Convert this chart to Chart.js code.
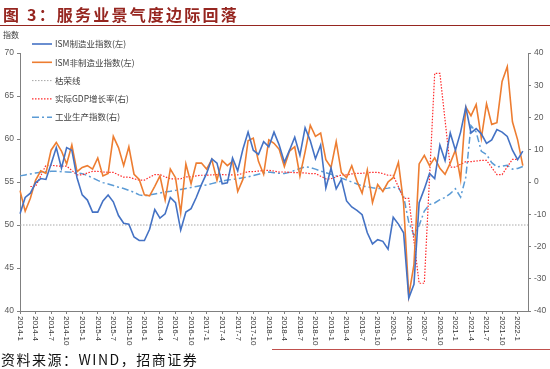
<!DOCTYPE html>
<html>
<head>
<meta charset="utf-8">
<script src="https://cdn.jsdelivr.net/npm/chart.js@4/dist/chart.umd.min.js"></script>
<style>
body { margin: 0; background: #fff; }
#wrap { position: relative; width: 550px; height: 369px; overflow: hidden; font-family: "Noto Sans CJK SC", sans-serif; }
#title { position: absolute; left: 3px; top: 4px; font-size: 16px; line-height: 20px; font-weight: bold; color: #962620; letter-spacing: 2.2px; white-space: nowrap; }
#titleLine { position: absolute; left: 0; top: 25px; width: 550px; border-top: 1.5px solid #962620; }
#unit { position: absolute; left: 3px; top: 30px; font-size: 8px; line-height: 10px; color: #404040; }
#src { position: absolute; left: 1px; top: 351px; font-size: 14px; line-height: 17px; color: #111; letter-spacing: 1.5px; white-space: nowrap; }
#srcLine { position: absolute; left: 272px; top: 349px; width: 278px; border-top: 1px solid #c0504d; }
canvas { position: absolute; left: 0; top: 0; }
</style>
</head>
<body>
<div id="wrap">
  <canvas id="myChart" width="550" height="369"></canvas>
  <div id="title">图 3：服务业景气度边际回落</div>
  <div id="titleLine"></div>
  <div id="unit">指数</div>
  <div id="srcLine"></div>
  <div id="src">资料来源：WIND，招商证券</div>
</div>
<script>
// months 2014-1 .. 2022-3 (last one only pads the axis)
var labels = [
  "2014-1","2014-2","2014-3","2014-4","2014-5","2014-6","2014-7","2014-8","2014-9","2014-10","2014-11","2014-12",
  "2015-1","2015-2","2015-3","2015-4","2015-5","2015-6","2015-7","2015-8","2015-9","2015-10","2015-11","2015-12",
  "2016-1","2016-2","2016-3","2016-4","2016-5","2016-6","2016-7","2016-8","2016-9","2016-10","2016-11","2016-12",
  "2017-1","2017-2","2017-3","2017-4","2017-5","2017-6","2017-7","2017-8","2017-9","2017-10","2017-11","2017-12",
  "2018-1","2018-2","2018-3","2018-4","2018-5","2018-6","2018-7","2018-8","2018-9","2018-10","2018-11","2018-12",
  "2019-1","2019-2","2019-3","2019-4","2019-5","2019-6","2019-7","2019-8","2019-9","2019-10","2019-11","2019-12",
  "2020-1","2020-2","2020-3","2020-4","2020-5","2020-6","2020-7","2020-8","2020-9","2020-10","2020-11","2020-12",
  "2021-1","2021-2","2021-3","2021-4","2021-5","2021-6","2021-7","2021-8","2021-9","2021-10","2021-11","2021-12",
  "2022-1","2022-2","2022-3"
];

// left axis
var ismManufacturing = [
  51.3, 53.2, 53.7, 54.9, 55.4, 55.3, 57.1, 59.0, 56.6, 59.0, 58.7, 55.5,
  53.5, 52.9, 51.5, 51.5, 52.8, 53.5, 52.7, 51.1, 50.2, 50.1, 48.6, 48.2,
  48.2, 49.5, 51.8, 50.8, 51.3, 53.2, 52.6, 49.4, 51.5, 51.9, 53.2, 54.7,
  56.0, 57.7, 57.2, 54.8, 54.9, 57.8, 56.3, 58.8, 60.8, 58.7, 58.2, 59.7,
  59.1, 60.8, 59.3, 57.3, 58.7, 60.2, 58.1, 61.3, 59.8, 57.7, 59.3, 54.3,
  56.6, 54.2, 55.3, 52.8, 52.1, 51.7, 51.2, 49.1, 47.8, 48.3, 48.1, 47.2,
  50.9, 50.1, 49.1, 41.5, 43.1, 52.6, 54.2, 56.0, 55.4, 59.3, 57.5, 60.7,
  58.7, 60.8, 63.7, 60.7, 61.2, 60.6, 59.5, 59.9, 61.1, 60.8, 60.3, 58.7,
  57.6, 58.6
];
var ismServices = [
  54.0, 51.6, 53.1, 55.2, 56.3, 56.0, 58.7, 59.6, 58.6, 57.1, 59.3, 56.2,
  56.7, 56.9, 56.5, 57.8, 55.7, 56.0, 60.3, 59.0, 56.9, 59.1, 55.9, 55.3,
  53.5, 53.4, 54.5, 55.7, 52.9, 56.5, 55.5, 51.4, 57.1, 54.8, 57.2, 57.2,
  56.5, 57.6, 55.2, 57.5, 56.9, 57.4, 53.9, 55.3, 59.8, 60.1, 57.4, 55.9,
  59.9, 59.5, 58.8, 56.8, 58.6, 59.1, 55.7, 58.5, 61.6, 60.3, 60.7, 57.6,
  56.7, 59.7, 56.1, 55.5, 56.9, 55.1, 53.7, 56.4, 52.6, 54.7, 53.9, 55.0,
  55.5, 57.3, 52.5, 41.8, 45.4, 57.1, 58.1, 56.9, 57.8, 56.6, 55.9, 57.2,
  58.7, 55.3, 63.7, 62.7, 64.0, 60.1, 64.1, 61.7, 61.9, 66.7, 68.4, 62.0,
  59.9, 56.9
];
var boomBustLevel = 50;

// right axis
var gdpGrowth = [
  null, null, -1.4, -1.4, 1.9, 5.2, 5.2, 5.0, 4.9, 4.9, 3.6, 2.2,
  2.2, 2.8, 3.3, 3.3, 3.1, 3.0, 3.0, 2.2, 1.5, 1.5, 1.0, 0.6,
  0.6, 1.5, 2.3, 2.3, 1.6, 1.0, 1.0, 1.0, 1.6, 1.6, 1.9, 2.1,
  2.1, 2.2, 2.3, 2.3, 2.2, 2.2, 2.2, 2.7, 3.2, 3.2, 3.4, 3.6,
  3.6, 3.4, 3.1, 3.1, 3.0, 2.9, 2.9, 2.8, 2.6, 2.6, 1.8, 1.0,
  1.0, 1.6, 2.2, 2.2, 2.5, 2.7, 2.7, 2.9, 3.0, 3.0, 2.6, 2.1,
  2.1, -1.5, -5.1, -5.1, -18.3, -31.4, -31.4, 1.2, 33.7, 33.7, 19.2, 4.6,
  4.6, 5.5, 6.3, 6.3, 6.5, 6.7, 6.7, 4.5, 2.3, 2.3, 4.7, 7.0,
  7.0, null
];
var industrialProduction = [
  1.9, 2.2, 2.5, 2.8, 3.0, 3.2, 3.3, 3.3, 3.2, 3.1, 3.0, 2.8,
  2.6, 2.0, 1.3, 0.5, -0.2, -0.6, -1.1, -1.6, -2.0, -2.6, -3.2, -4.0,
  -4.3, -4.0, -3.7, -3.4, -3.1, -2.9, -2.6, -2.3, -2.0, -1.7, -1.4, -1.1,
  -0.9, -0.5, -0.1, 0.3, 0.6, 0.8, 1.0, 1.3, 1.6, 2.0, 2.4, 2.8,
  3.1, 2.9, 2.7, 2.6, 3.0, 3.6, 4.2, 4.7, 4.5, 4.0, 3.4, 2.9,
  2.4, 1.9, 1.2, 0.6, 0.0, -0.6, -1.2, -1.5, -1.8, -2.0, -2.1, -1.9,
  -1.6, -1.8, -4.5, -12.5, -16.5, -13.5, -9.0, -7.0, -6.5, -5.5, -4.8, -3.6,
  -2.1, -4.7, 1.5, 17.5, 15.5, 9.5, 8.5, 6.0, 4.7, 4.9, 5.2, 4.0,
  4.2, 4.8
];

var legendNames = ["ISM制造业指数(左)", "ISM非制造业指数(左)", "枯荣线", "实际GDP增长率(右)", "工业生产指数(右)"];

var axisColor = '#808080';
var tickFont = { family: 'Liberation Sans', size: 8.5 };

// vertical legend in the top-left corner of the plot
var cornerLegend = {
    id: 'cornerLegend',
    afterDraw: function (chart) {
        var ctx = chart.ctx;
        ctx.save();
        ctx.font = '8.5px "Noto Sans CJK SC"';
        ctx.fillStyle = '#404040';
        ctx.textBaseline = 'middle';
        chart.data.datasets.forEach(function (ds, i) {
            var y = 44 + i * 18.3;
            ctx.strokeStyle = ds.borderColor;
            ctx.lineWidth = ds.borderWidth;
            ctx.setLineDash(ds.borderDash || []);
            ctx.beginPath();
            ctx.moveTo(32, y);
            ctx.lineTo(52, y);
            ctx.stroke();
            ctx.fillText(legendNames[i], 55, y);
        });
        ctx.restore();
    }
};

// x labels rotated clockwise, one every quarter
var quarterLabels = {
    id: 'quarterLabels',
    afterDraw: function (chart) {
        var ctx = chart.ctx, xs = chart.scales.x;
        ctx.save();
        ctx.font = '8px "Liberation Sans"';
        ctx.fillStyle = '#333333';
        ctx.textBaseline = 'middle';
        ctx.textAlign = 'left';
        labels.forEach(function (lab, i) {
            if (i % 3 !== 0) return;
            ctx.save();
            ctx.translate(xs.getPixelForValue(i), xs.top + 5);
            ctx.rotate(Math.PI / 2);
            ctx.fillText(lab, 0, 0);
            ctx.restore();
        });
        ctx.restore();
    }
};

var ctx = document.getElementById("myChart").getContext('2d');
var myChart = new Chart(ctx, {
    type: 'line',
    data: {
        labels: labels,
        datasets: [{
            label: legendNames[0],
            data: ismManufacturing,
            borderColor: '#4472c4',
            borderWidth: 1.6,
            yAxisID: 'y'
        }, {
            label: legendNames[1],
            data: ismServices,
            borderColor: '#ed7d31',
            borderWidth: 1.6,
            yAxisID: 'y'
        }, {
            label: legendNames[2],
            data: labels.map(function () { return boomBustLevel; }),
            borderColor: '#a6a6a6',
            borderWidth: 1,
            borderDash: [1.5, 1.5],
            yAxisID: 'y'
        }, {
            label: legendNames[3],
            data: gdpGrowth,
            borderColor: '#ff2a2a',
            borderWidth: 1.2,
            borderDash: [1.5, 1.5],
            yAxisID: 'y1'
        }, {
            label: legendNames[4],
            data: industrialProduction,
            borderColor: '#5b9bd5',
            borderWidth: 1.5,
            borderDash: [7, 3, 2, 3],
            yAxisID: 'y1'
        }]
    },
    options: {
        responsive: false,
        animation: false,
        layout: { padding: { top: 53, left: 0, right: 0, bottom: 0 } },
        elements: {
            point: { radius: 0 },
            line: { tension: 0, fill: false }
        },
        plugins: {
            legend: { display: false },
            tooltip: { enabled: false }
        },
        scales: {
            x: {
                offset: false,
                ticks: { display: false },
                border: { color: axisColor },
                grid: {
                    drawOnChartArea: false,
                    tickLength: 3,
                    tickColor: function (c) { return c.index % 3 === 0 ? axisColor : 'rgba(0,0,0,0)'; }
                },
                afterFit: function (s) { s.height = 58; }
            },
            y: {
                position: 'left',
                min: 40, max: 70,
                ticks: { stepSize: 5, font: tickFont, color: '#595959', padding: 3 },
                border: { color: axisColor },
                grid: { drawOnChartArea: false, tickLength: 3, color: axisColor },
                afterFit: function (s) { s.width = 20; }
            },
            y1: {
                position: 'right',
                min: -40, max: 40,
                ticks: { stepSize: 10, font: tickFont, color: '#595959', padding: 3 },
                border: { color: axisColor },
                grid: { drawOnChartArea: false, tickLength: 3, color: axisColor },
                afterFit: function (s) { s.width = 22; }
            }
        }
    },
    plugins: [cornerLegend, quarterLabels]
});
</script>
</body>
</html>
